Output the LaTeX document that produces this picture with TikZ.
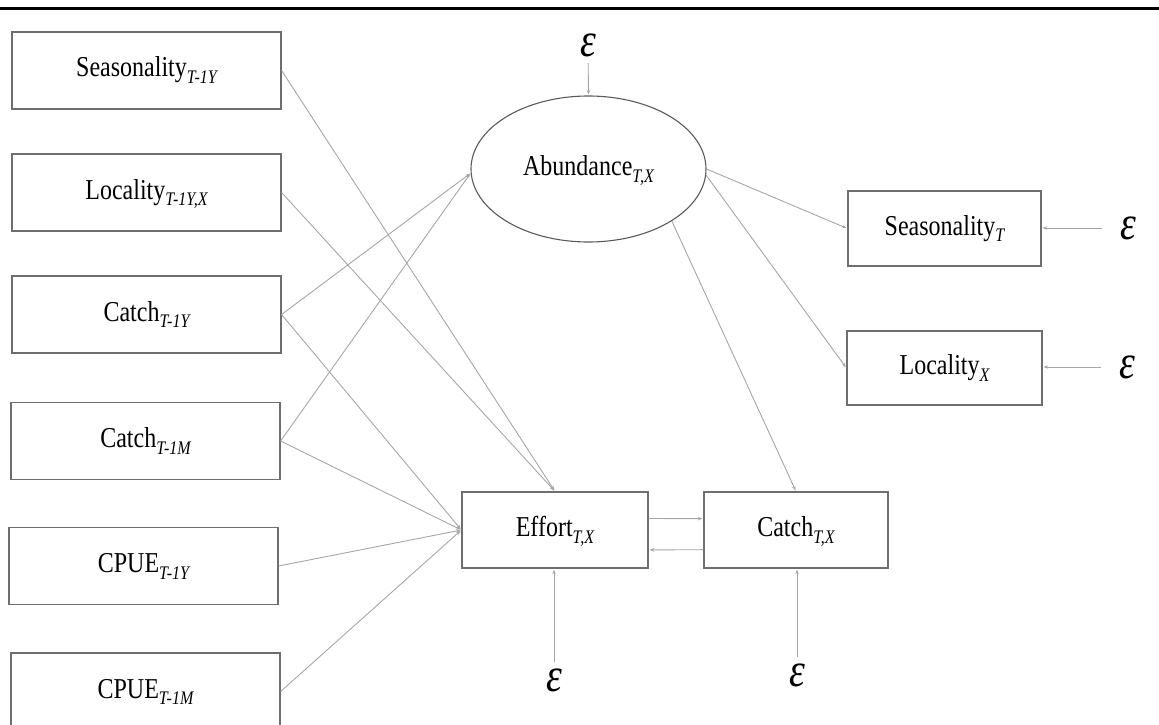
\documentclass[tikz,border=0pt]{standalone}
\usepackage{fontspec}
\setmainfont{Liberation Serif}
\usetikzlibrary{arrows.meta,shapes.geometric}
\definecolor{boxline}{HTML}{6E6E6E}
\definecolor{ovalline}{HTML}{5A5A5A}
\definecolor{linkline}{HTML}{A6A6A6}
% label with an italic subscript, set in slightly tall letters
\newcommand{\lowsub}[1]{\raisebox{-5.5pt}{\fontsize{16}{16}\selectfont\itshape #1}}
\newcommand{\varlabel}[2]{\scalebox{1}[1.2]{#1\lowsub{#2}}}
\newcommand{\errsym}{\scalebox{1}[1.2]{ε}}
\begin{document}
\begin{tikzpicture}[x=1pt,y=-1pt,
  var/.style={draw=boxline,line width=1.2pt,rectangle,inner sep=0pt,
    text height=19pt,text depth=6pt,font=\fontsize{24}{28}\selectfont},
  lbox/.style={var,minimum width=269pt,minimum height=77pt},
  latent/.style={draw=ovalline,line width=1.1pt,ellipse,minimum width=235pt,
    minimum height=146pt,inner sep=0pt,text height=19pt,text depth=6pt,
    font=\fontsize{24}{28}\selectfont},
  err/.style={circle,inner sep=0pt,minimum size=36pt,
    font=\fontsize{40}{40}\selectfont\itshape},
  link/.style={draw=linkline,line width=0.9pt,
    -{Stealth[length=4.5pt,width=3.5pt]},shorten >=1pt}
]
\useasboundingbox (0,0) rectangle (1159,725);
\clip (0,0) rectangle (1159,725);

% header rule
\draw[line width=3pt] (0,8.5) -- (1159,8.5);

% lagged predictors
\node[lbox] (s1) at (146.5,70.5)  {\varlabel{Seasonality}{T-1Y}};
\node[lbox] (l1) at (146.5,192.5) {\varlabel{Locality}{T-1Y,X}};
\node[lbox] (c1) at (146.5,314.5) {\varlabel{Catch}{T-1Y}};
\node[lbox] (c2) at (145.5,441)   {\varlabel{Catch}{T-1M}};
\node[lbox] (p1) at (143.5,566)   {\varlabel{CPUE}{T-1Y}};
\node[lbox] (p2) at (145.5,691.5) {\varlabel{CPUE}{T-1M}};

% latent abundance and its indicators
\node[latent] (ab) at (588.5,169) {\varlabel{Abundance}{T,X}};
\node[var,minimum width=193pt,minimum height=75pt] (st) at (944.5,228.5) {\varlabel{Seasonality}{T}};
\node[var,minimum width=195pt,minimum height=74pt] (lx) at (944.5,368) {\varlabel{Locality}{X}};

% current effort and catch
\node[var,minimum width=186pt,minimum height=76pt] (eff) at (555,530) {\varlabel{Effort}{T,X}};
\node[var,minimum width=184pt,minimum height=76pt] (ct)  at (796,530) {\varlabel{Catch}{T,X}};

% error terms
\node[err] (e0) at (588,45)   {\errsym};
\node[err] (e1) at (1128,228) {\errsym};
\node[err] (e2) at (1127,367) {\errsym};
\node[err] (e3) at (554,680)  {\errsym};
\node[err] (e4) at (797,675)  {\errsym};

% paths into abundance
\draw[link] (c1.east) -- (ab.182);
\draw[link] (c2.east) -- (ab.182);
\draw[link] (e0) -- (ab.north);

% paths into effort
\draw[link] (s1.east) -- (eff.north);
\draw[link] (l1.east) -- (eff.north);
\draw[link] (c1.east) -- (eff.west);
\draw[link] (c2.east) -- (eff.west);
\draw[link] (p1.east) -- (eff.west);
\draw[link] (p2.east) -- (eff.west);
\draw[link] (e3) -- (e3 |- eff.south);

% abundance to indicators and catch
\draw[link] (ab.east) -- (st.west);
\draw[link] (ab.-3) -- (lx.west);
\draw[link] (ab.-32) -- (ct.north);
\draw[link,shorten <=8pt] (e1) -- (e1 -| st.east);
\draw[link,shorten <=8pt] (e2) -- (e2 -| lx.east);
\draw[link] (e4) -- (e4 |- ct.south);

% feedback between effort and catch
\draw[link] (eff.7) -- (ct.173);
\draw[link] (ct.-168) -- (eff.-12);
\end{tikzpicture}
\end{document}
